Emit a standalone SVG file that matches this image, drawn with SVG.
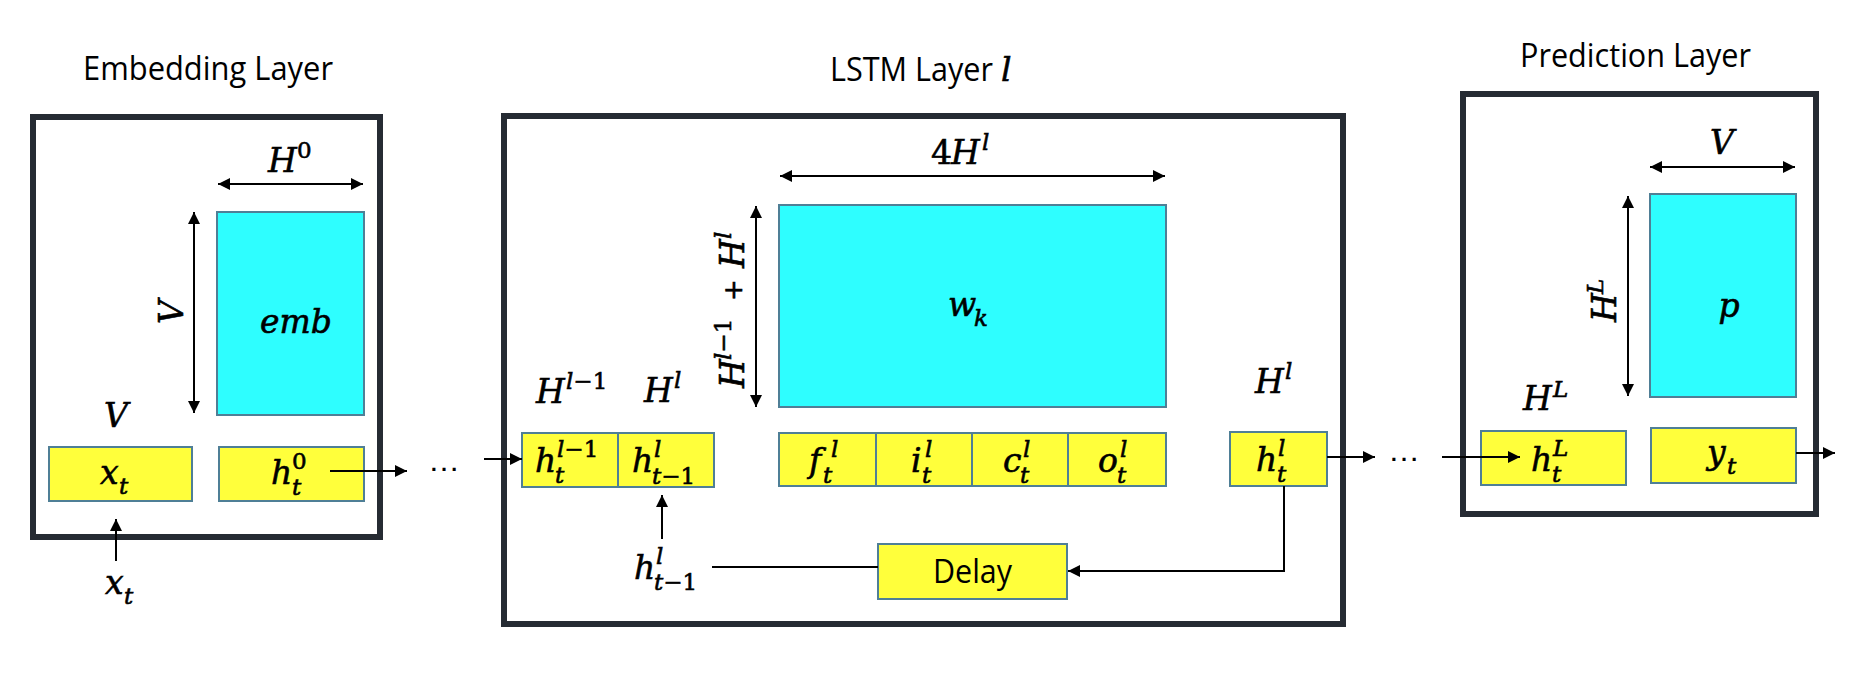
<svg xmlns="http://www.w3.org/2000/svg" width="1870" height="676" viewBox="0 0 1870 676">
<defs>
<marker id="ah" markerUnits="userSpaceOnUse" markerWidth="13" markerHeight="12" refX="12" refY="6" orient="auto-start-reverse">
<path d="M0,0 L12,6 L0,12 z" fill="#000"/>
</marker>
<style>
.frame{fill:none;stroke:#262b33;stroke-width:6}
.cy{fill:#2efeff;stroke:#4f7f96;stroke-width:2}
.ye{fill:#ffff3b;stroke:#4f7f96;stroke-width:2}
.title{font-family:"Open Sans","Liberation Sans",sans-serif;font-size:32px;fill:#000}
.m{font-family:"DejaVu Serif","Liberation Serif",serif;font-style:italic;font-size:33px;fill:#000;stroke:#000;stroke-width:0.6}
.s{font-size:23px}
.u{font-style:normal}
.dots{font-family:"Liberation Sans",sans-serif;font-size:32px;fill:#000}
.c path{stroke:#000;stroke-width:2;fill:none}
.a{marker-end:url(#ah)}
.d{marker-start:url(#ah);marker-end:url(#ah)}
</style>
</defs>
<rect width="1870" height="676" fill="#fff"/>

<g id="embedding-layer">
<text class="title" x="83" y="80" textLength="250" lengthAdjust="spacingAndGlyphs">Embedding Layer</text>
<rect class="frame" x="33" y="117" width="347" height="420"/>
<text class="m" x="268" y="172">H<tspan class="s u" x="297" y="158">0</tspan></text>
<rect class="cy" x="217" y="212" width="147" height="203"/>
<text class="m" x="296" y="333" text-anchor="middle" font-size="34">emb</text>
<text class="m" transform="translate(183,324) rotate(-90)">V</text>
<text class="m" x="104" y="427">V</text>
</g>

<g id="x_t-box">
<rect class="ye" x="49" y="447" width="143" height="54"/>
<text class="m" x="100" y="484">x<tspan class="s" x="119" y="494">t</tspan></text>
</g>

<g id="h0-box">
<rect class="ye" x="219" y="447" width="145" height="54"/>
<text class="m" x="271" y="484">h<tspan class="s u" x="292" y="469">0</tspan><tspan class="s" x="292" y="495">t</tspan></text>
</g>

<g id="x_t-input">
<text class="m" x="105" y="594">x<tspan class="s" x="124" y="604">t</tspan></text>
</g>

<g id="dots-1"><text class="dots" x="428" y="471">…</text></g>

<g id="lstm-layer">
<text class="title" y="81"><tspan x="830" textLength="163" lengthAdjust="spacingAndGlyphs">LSTM Layer</tspan></text>
<text class="m" x="1001" y="81" font-size="34">l</text>
<rect class="frame" x="504" y="116" width="839" height="508"/>
<text class="m" x="931" y="164"><tspan class="u">4</tspan><tspan x="951">H</tspan><tspan class="s" x="982" y="150">l</tspan></text>
<rect class="cy" x="779" y="205" width="387" height="202"/>
<text class="m" x="948" y="316">w<tspan class="s" x="974" y="326">k</tspan></text>
<text class="m" transform="translate(744,388) rotate(-90)">H<tspan class="s" x="28" y="-13">l<tspan class="u">−1</tspan></tspan><tspan class="u" x="87" y="-2" font-size="26">+</tspan><tspan x="120" y="0">H</tspan><tspan class="s" x="149" y="-13">l</tspan></text>
<text class="m" x="536" y="403">H<tspan class="s" x="566" y="389">l<tspan class="u">−1</tspan></tspan></text>
<text class="m" x="644" y="402">H<tspan class="s" x="674" y="388">l</tspan></text>
<text class="m" x="1255" y="393">H<tspan class="s" x="1285" y="379">l</tspan></text>
</g>

<g id="h-prev-boxes">
<rect class="ye" x="522" y="433" width="96" height="54"/>
<rect class="ye" x="618" y="433" width="96" height="54"/>
<text class="m" x="535" y="472">h<tspan class="s" x="557" y="457">l<tspan class="u">−1</tspan></tspan><tspan class="s" x="555" y="483">t</tspan></text>
<text class="m" x="632" y="472">h<tspan class="s" x="654" y="457">l</tspan><tspan class="s" x="652" y="484">t<tspan class="u">−1</tspan></tspan></text>
</g>

<g id="gate-boxes">
<rect class="ye" x="779" y="433" width="97" height="53"/>
<rect class="ye" x="876" y="433" width="96" height="53"/>
<rect class="ye" x="972" y="433" width="96" height="53"/>
<rect class="ye" x="1068" y="433" width="98" height="53"/>
<text class="m" x="809" y="472">f<tspan class="s" x="831" y="457">l</tspan><tspan class="s" x="823" y="483">t</tspan></text>
<text class="m" x="911" y="472">i<tspan class="s" x="925" y="457">l</tspan><tspan class="s" x="922" y="483">t</tspan></text>
<text class="m" x="1003" y="472">c<tspan class="s" x="1023" y="457">l</tspan><tspan class="s" x="1020" y="483">t</tspan></text>
<text class="m" x="1098" y="472">o<tspan class="s" x="1120" y="457">l</tspan><tspan class="s" x="1117" y="483">t</tspan></text>
</g>

<g id="h_t-box">
<rect class="ye" x="1230" y="432" width="97" height="54"/>
<text class="m" x="1256" y="471">h<tspan class="s" x="1278" y="456">l</tspan><tspan class="s" x="1277" y="482">t</tspan></text>
</g>

<g id="h-prev-label">
<text class="m" x="634" y="579">h<tspan class="s" x="656" y="564">l</tspan><tspan class="s" x="654" y="590">t<tspan class="u">−1</tspan></tspan></text>
</g>

<g id="delay">
<rect class="ye" x="878" y="544" width="189" height="55"/>
<text class="title" x="933" y="583" textLength="79" lengthAdjust="spacingAndGlyphs">Delay</text>
</g>

<g id="dots-2"><text class="dots" x="1388" y="461">…</text></g>

<g id="prediction-layer">
<text class="title" x="1520" y="67" textLength="231" lengthAdjust="spacingAndGlyphs">Prediction Layer</text>
<rect class="frame" x="1463" y="94" width="353" height="420"/>
<text class="m" x="1710" y="154">V</text>
<rect class="cy" x="1650" y="194" width="146" height="203"/>
<text class="m" x="1729" y="317" text-anchor="middle">p</text>
<text class="m" transform="translate(1616,322) rotate(-90)">H<tspan class="s" x="28" y="-13">L</tspan></text>
<text class="m" x="1523" y="410">H<tspan class="s" x="1553" y="397">L</tspan></text>
</g>

<g id="hL-box">
<rect class="ye" x="1481" y="431" width="145" height="54"/>
<text class="m" x="1531" y="471">h<tspan class="s" x="1553" y="456">L</tspan><tspan class="s" x="1552" y="482">t</tspan></text>
</g>

<g id="y_t-box">
<rect class="ye" x="1651" y="428" width="145" height="55"/>
<text class="m" x="1707" y="464">y<tspan class="s" x="1727" y="474">t</tspan></text>
</g>

<g id="connectors" class="c">
<path class="d" d="M218 184 H363"/>
<path class="d" d="M194 212 V413"/>
<path class="a" d="M330 471 H407"/>
<path class="a" d="M116 561 V519"/>
<path class="a" d="M484 459 H522"/>
<path class="d" d="M780 176 H1165"/>
<path class="d" d="M756 206 V407"/>
<path class="a" d="M662 539 V495"/>
<path d="M712 567 H878"/>
<path class="a" d="M1284 486 V571 H1068"/>
<path class="a" d="M1327 457 H1375"/>
<path class="a" d="M1442 457 H1520"/>
<path class="d" d="M1650 167 H1795"/>
<path class="d" d="M1628 196 V396"/>
<path class="a" d="M1796 453 H1835"/>
</g>
</svg>
